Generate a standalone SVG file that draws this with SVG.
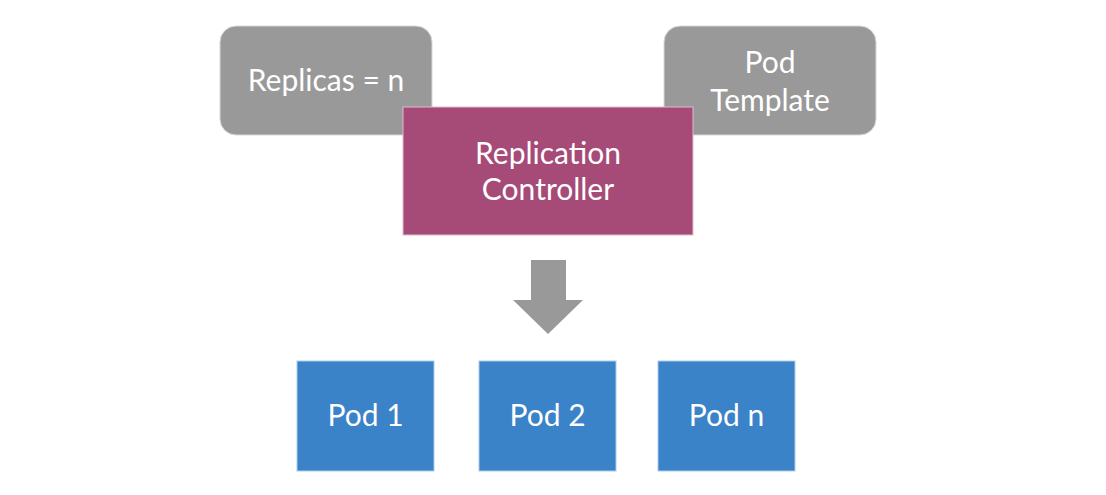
<svg xmlns="http://www.w3.org/2000/svg" width="1106" height="495" viewBox="0 0 1106 495">
<style>
text{font-family:Lato,"Open Sans",sans-serif;font-size:30px;fill:#ffffff;text-anchor:middle}
.g{fill:#999999;stroke:#d8d8d8;stroke-width:1}
.rc{fill:#a64a77;stroke:#e0bccd;stroke-width:1}
.pod{fill:#3a83c8;stroke:#a9cbeb;stroke-width:1}
</style>
<rect width="1106" height="495" fill="#ffffff"/>
<g id="replicas"><rect class="g" x="220" y="26" width="212" height="109" rx="16"/><text x="326" y="91">Replicas = n</text></g>
<g id="podtemplate"><rect class="g" x="664" y="26" width="212" height="109" rx="16"/><text x="770" y="73">Pod</text><text x="770" y="111">Template</text></g>
<g id="rc"><rect class="rc" x="403" y="107" width="290" height="128"/><text x="548" y="164">Replication</text><text x="548" y="200">Controller</text></g>
<g id="connectors"><polygon points="531,260 566,260 566,300 583,300 548,334 513,300 531,300" fill="#999999"/></g>
<g id="pod1"><rect class="pod" x="297" y="361" width="137" height="110"/><text x="365.5" y="426">Pod 1</text></g>
<g id="pod2"><rect class="pod" x="479" y="361" width="137" height="110"/><text x="547.5" y="426">Pod 2</text></g>
<g id="podn"><rect class="pod" x="658" y="361" width="137" height="110"/><text x="726.5" y="426">Pod n</text></g>
</svg>
